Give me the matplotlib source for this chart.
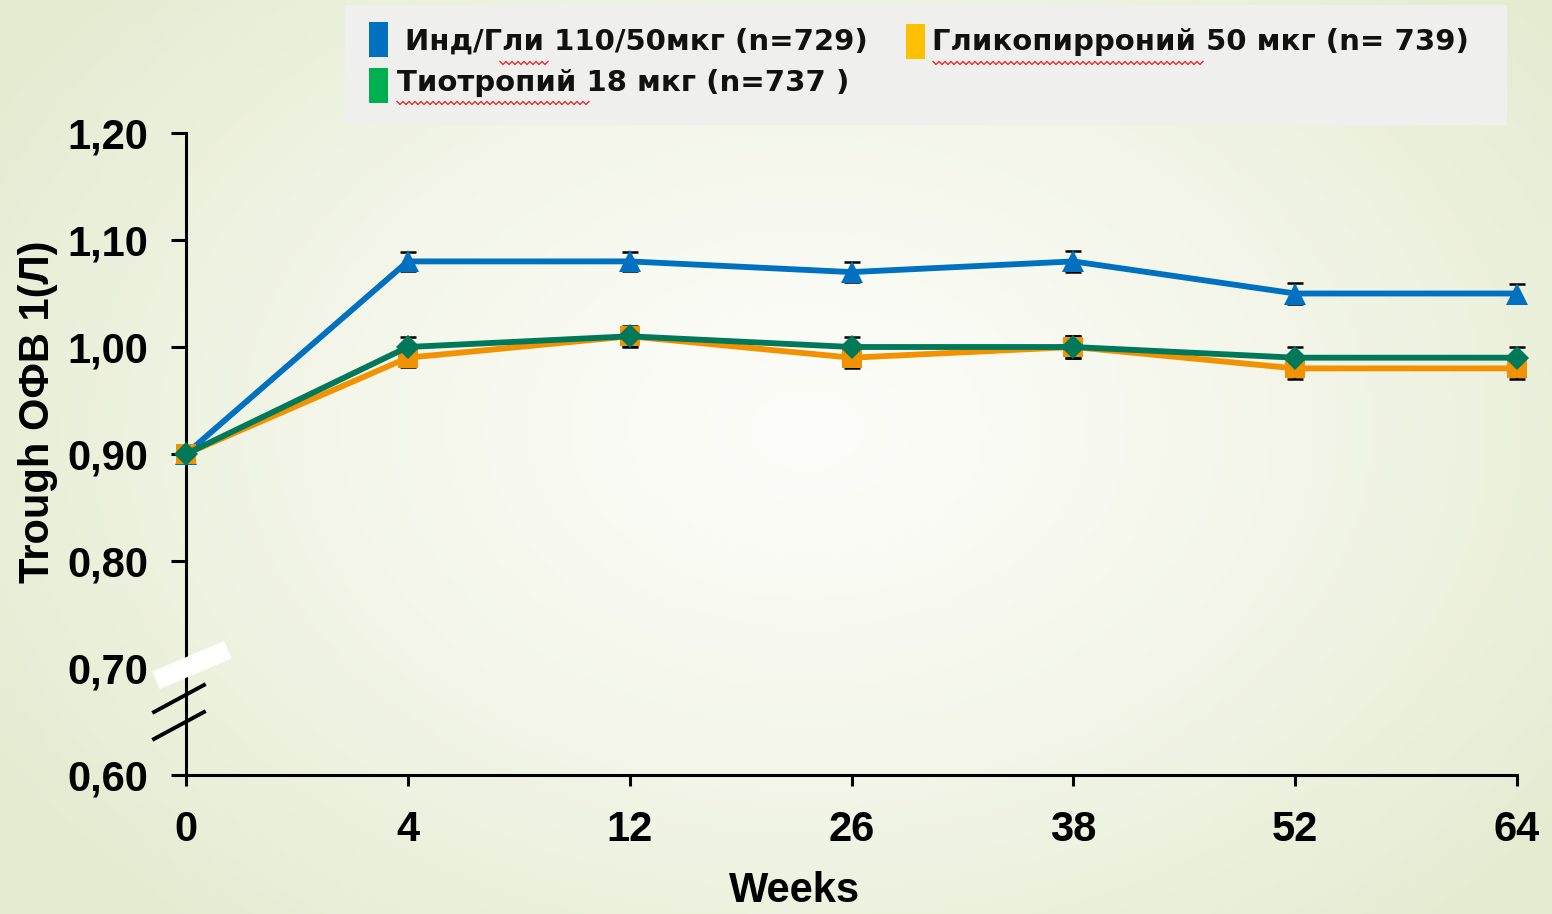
import matplotlib

matplotlib.use("Agg")
import matplotlib.pyplot as plt
import numpy as np
from matplotlib import font_manager
from matplotlib.lines import Line2D
from matplotlib.patches import Rectangle
from matplotlib.transforms import Affine2D

W, H = 1552, 914

weeks = ["0", "4", "12", "26", "38", "52", "64"]
ind_gli = [0.90, 1.08, 1.08, 1.07, 1.08, 1.05, 1.05]
glyco = [0.90, 0.99, 1.01, 0.99, 1.00, 0.98, 0.98]
tio = [0.90, 1.00, 1.01, 1.00, 1.00, 0.99, 0.99]
ind_gli_err = [0.0, 0.009, 0.009, 0.009, 0.010, 0.010, 0.009]
glyco_err = [0.0, 0.009, 0.010, 0.010, 0.010, 0.010, 0.010]
tio_err = [0.0, 0.009, 0.009, 0.009, 0.010, 0.010, 0.010]
y_ticks = [0.60, 0.70, 0.80, 0.90, 1.00, 1.10, 1.20]

legend_labels = [
    "Инд/Гли 110/50мкг (n=729)",
    "Гликопирроний 50 мкг (n= 739)",
    "Тиотропий 18 мкг (n=737 )",
]


def fx(x):
    return x / W


def fy(y):
    return 1 - y / H


def has_font(name):
    try:
        font_manager.findfont(name, fallback_to_default=False)
        return True
    except Exception:
        return False


narrow = "Liberation Sans Narrow" if has_font("Liberation Sans Narrow") else None

plt.rcParams.update({"font.family": "Liberation Sans", "font.weight": "bold"})

fig = plt.figure(figsize=(W / 100, H / 100), dpi=100)

# background gradient
bg = fig.add_axes([0, 0, 1, 1], zorder=-10)
gx, gy = np.meshgrid(np.linspace(0, 1, 400), np.linspace(0, 1, 240))
r = np.sqrt(((gx - 0.52) / 0.62) ** 2 + ((gy - 0.47) / 0.75) ** 2)
t = np.clip(r, 0, 1) ** 1.3
c0 = np.array([253, 253, 249]) / 255
c1 = np.array([228, 235, 208]) / 255
img = c0[None, None, :] * (1 - t[..., None]) + c1[None, None, :] * t[..., None]
bg.imshow(img, aspect="auto", extent=[0, 1, 0, 1], origin="upper")
bg.axis("off")

ax = fig.add_axes([fx(186), fy(775), fx(1517) - fx(186), fy(133) - fy(775)])
ax.patch.set_alpha(0)
x = np.arange(len(weeks))

series = [
    (ind_gli, ind_gli_err, "#0070C0", "^", 16),
    (glyco, glyco_err, "#F39200", "s", 15),
    (tio, tio_err, "#00785A", "D", 12.5),
]
for vals, err, color, marker, ms in series:
    ax.errorbar(x, vals, yerr=err, fmt="none", ecolor="black", elinewidth=1.6,
                capsize=6, capthick=1.8, zorder=3, clip_on=False)
for vals, err, color, marker, ms in series:
    ax.plot(x, vals, color=color, linewidth=4.2, marker=marker, markersize=ms,
            markeredgewidth=0, zorder=4, clip_on=False)

ax.set_xlim(0, len(weeks) - 1)
ax.set_ylim(0.60, 1.20)
ax.set_xticks(x)
ax.set_xticklabels(weeks)
ax.set_yticks(y_ticks)
ax.set_yticklabels([f"{v:.2f}".replace(".", ",") for v in y_ticks])
for s in ["top", "right"]:
    ax.spines[s].set_visible(False)
for s in ["left", "bottom"]:
    ax.spines[s].set_linewidth(2.2)
ax.tick_params(axis="y", length=11, width=2.2, pad=16, labelsize=30)
ax.tick_params(axis="x", length=8, width=2.2, pad=17, labelsize=30)
for lab in ax.get_xticklabels() + ax.get_yticklabels():
    lab.set_fontweight("bold")

fig.text(fx(38), fy(412), "Trough ОФВ 1(Л)", rotation=90, ha="center", va="center",
         fontsize=30, fontweight="bold")
fig.text(fx(795), fy(911), "Weeks", ha="center", va="bottom", fontsize=30, fontweight="bold")

# axis break
bw, bh = 78, 19
brk = Rectangle((-bw / 2, -bh / 2), bw, bh, facecolor="white", edgecolor="none", zorder=20,
                transform=Affine2D().rotate_deg(23).translate(192, H - 665))
fig.add_artist(brk)
for y0 in (712, 739):
    fig.add_artist(Line2D([fx(154), fx(204)], [fy(y0), fy(y0 - 27)], color="black",
                          linewidth=2.8, transform=fig.transFigure, zorder=21))

# legend box
fig.add_artist(Rectangle((fx(345), fy(125)), fx(1507) - fx(345), fy(5) - fy(125),
                         transform=fig.transFigure, facecolor="#efefed", edgecolor="none", zorder=5))
patches = [("#0070C0", 369, 22), ("#FFC000", 906, 24), ("#00B050", 369, 68)]
for color, px, py in patches:
    fig.add_artist(Rectangle((fx(px), fy(py + 35)), fx(19), 35 / H, transform=fig.transFigure,
                             facecolor=color, edgecolor="none", zorder=6))
text_pos = [(405, 42), (932, 42), (397, 83)]
lfam = [narrow, "DejaVu Sans"] if narrow else ["DejaVu Sans"]
lsize = 28 if narrow else 21
for label, (px, py) in zip(legend_labels, text_pos):
    fig.text(fx(px), fy(py), label, ha="left", va="center", fontsize=lsize,
             family=lfam, fontweight="bold", color="#111111", zorder=7)

# spell-check squiggles
for x0, x1, yy in [(500, 548, 63), (933, 1205, 63), (397, 590, 103)]:
    xs = np.arange(x0, x1 + 1, 3)
    ys = yy + np.where(np.arange(len(xs)) % 2 == 0, -1.5, 1.5)
    fig.add_artist(Line2D(fx(xs), fy(ys), color="#e03030", linewidth=1.0,
                          transform=fig.transFigure, zorder=8))

fig.savefig("out.png", dpi=100)
